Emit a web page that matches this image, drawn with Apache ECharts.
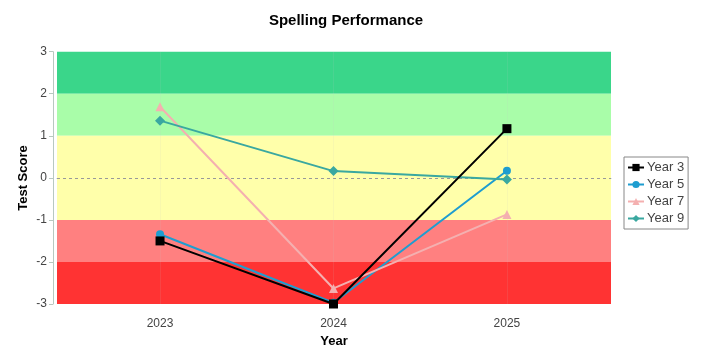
<!DOCTYPE html>
<html><head><meta charset="utf-8">
<script src="https://cdn.jsdelivr.net/npm/echarts@6/dist/echarts.min.js"></script>
<style>html,body{margin:0;padding:0;background:#fff}#c{width:705px;height:346px}</style>
</head><body><div id="c"></div>
<script>
const years = [2023, 2024, 2025];
const seriesNames = ['Year 3', 'Year 5', 'Year 7', 'Year 9'];
const year3 = [-1.50, -3.00, 1.17];
const year5 = [-1.34, -2.97, 0.17];
const year7 = [1.69, -2.63, -0.87];
const year9 = [1.36, 0.16, -0.04];
const yTicks = [-3, -2, -1, 0, 1, 2, 3];
const bands = [[2, 3], [1, 2], [-1, 1], [-2, -1], [-3, -2]];
const bandColors = ['#3ad68a', '#a9fda9', '#ffffaa', '#ff8080', '#ff3333'];
const yName = 'Test Score';

const values = [year3, year5, year7, year9];
const colors = ['#000000', '#1e9dd0', '#f4b0b0', '#3aa8a0'];
const symbols = ['rect', 'circle', 'triangle', 'diamond'];
const sizes = [9, 8, 9, 10];

const chart = echarts.init(document.getElementById('c'), null, {renderer: 'canvas'});
const series = seriesNames.map((n, i) => ({
  name: n, type: 'line',
  data: years.map((y, j) => [y, values[i][j]]),
  symbol: symbols[i], symbolSize: sizes[i],
  lineStyle: {color: colors[i], width: 2},
  itemStyle: {color: colors[i]},
  z: 10 + i
}));
series[0].z = 14;
series.push({
  type: 'line', data: [], silent: true, z: 1,
  markArea: {
    silent: true,
    data: bands.map((b, i) => [{yAxis: b[0], itemStyle: {color: bandColors[i]}}, {yAxis: b[1]}])
  },
  markLine: {
    silent: true, symbol: 'none', label: {show: false},
    data: [
      {yAxis: 0, lineStyle: {color: '#999', type: [3, 3], width: 1}},
      ...years.map(y => ({xAxis: y, lineStyle: {color: 'rgba(200,200,200,0.12)', type: 'solid', width: 1}}))
    ]
  }
});

const font = 'Liberation Sans, Arial';
chart.setOption({
  animation: false,
  title: {
    text: 'Spelling Performance', left: 341, top: 8, textAlign: 'center',
    textStyle: {fontFamily: font, fontSize: 15, fontWeight: 'bold', color: '#000'}
  },
  graphic: [{
    type: 'text', x: 23, y: 178, rotation: Math.PI / 2,
    style: {text: yName, font: 'bold 13px Liberation Sans, Arial', fill: '#000', align: 'center', verticalAlign: 'middle'}
  }],
  legend: {
    data: seriesNames, orient: 'vertical', left: 624, top: 157,
    borderColor: '#888', borderWidth: 1, borderRadius: 0,
    padding: [4, 4, 4, 3], itemGap: 4, itemWidth: 16, itemHeight: 9,
    textStyle: {fontFamily: font, fontSize: 13, color: '#444', padding: [0, 0, 0, -2]}
  },
  grid: {left: 57, right: 94, top: 51.7, bottom: 42, outerBoundsMode: 'none', containLabel: false},
  xAxis: {
    type: 'value', min: 2022.406, max: 2025.6, offset: 8,
    name: 'Year', nameLocation: 'middle', nameGap: 22,
    nameTextStyle: {fontFamily: font, fontSize: 13, fontWeight: 'bold', color: '#000'},
    axisLine: {show: true, lineStyle: {color: '#b8c8c0'}},
    axisTick: {show: true, customValues: years, length: 4, lineStyle: {color: '#b8c8c0'}},
    axisLabel: {customValues: years, formatter: v => String(v), fontFamily: font, fontSize: 12, color: '#444', margin: 6},
    splitLine: {show: false}
  },
  yAxis: {
    type: 'value', min: -3, max: 3, interval: 1, offset: 4,
    axisLine: {show: true, lineStyle: {color: '#b8c8c0'}},
    axisTick: {show: true, length: 4, lineStyle: {color: '#b8c8c0'}},
    axisLabel: {fontFamily: font, fontSize: 12, color: '#444', margin: 6},
    splitLine: {show: false}
  },
  series: series
});
</script></body></html>
